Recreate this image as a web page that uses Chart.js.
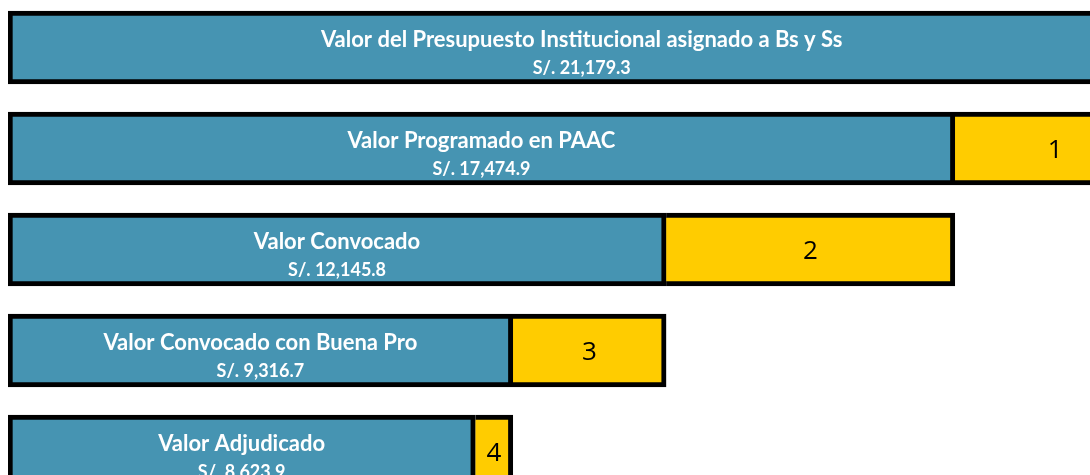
<!DOCTYPE html>
<html>
<head>
<meta charset="utf-8">
<script src="https://cdn.jsdelivr.net/npm/chart.js@4/dist/chart.umd.min.js"></script>
<style>
  html, body { margin: 0; padding: 0; background: #fff; overflow: hidden; }
  #wrap { width: 1090px; height: 475px; overflow: hidden; }
  #chart { display: block; margin-top: -3px; }
</style>
</head>
<body>
<div id="wrap"><canvas id="chart" width="1200" height="505"></canvas></div>
<script>
// etapas del proceso y montos (S/.)
const categorias = [
  'Valor del Presupuesto Institucional asignado a Bs y Ss',
  'Valor Programado en PAAC',
  'Valor Convocado',
  'Valor Convocado con Buena Pro',
  'Valor Adjudicado'
];
const valores = [21179.3, 17474.9, 12145.8, 9316.7, 8623.9];
const numerosBrecha = ['', '1', '2', '3', '4'];

const AZUL = '#4694b2';
const AMARILLO = '#ffcc00';

// brecha = monto de la etapa anterior menos el de la actual
var brechas = valores.map(function (v, i) { return i === 0 ? 0 : valores[i - 1] - v; });

function formato(v) {
  return 'S/. ' + v.toLocaleString('en-US', {minimumFractionDigits: 1, maximumFractionDigits: 1});
}

const etiquetas = {
  id: 'etiquetas',
  afterDatasetsDraw(chart) {
    const ctx = chart.ctx;
    const azul = chart.getDatasetMeta(0).data;
    const amar = chart.getDatasetMeta(1).data;
    ctx.save();
    ctx.textAlign = 'center';
    ctx.textBaseline = 'middle';
    azul.forEach(function (bar, i) {
      var cx = (bar.base + bar.x) / 2;
      ctx.fillStyle = '#fff';
      ctx.font = 'bold 22px Lato';
      ctx.fillText(categorias[i], cx, bar.y - 8);
      ctx.font = 'bold 18px Lato';
      ctx.fillText(formato(valores[i]), cx, bar.y + 21);
    });
    amar.forEach(function (bar, i) {
      if (!numerosBrecha[i]) return;
      ctx.fillStyle = '#000';
      ctx.font = '26px "Open Sans"';
      ctx.fillText(numerosBrecha[i], (bar.base + bar.x) / 2, bar.y + 2);
    });
    ctx.restore();
  }
};

new Chart(document.getElementById('chart').getContext('2d'), {
  type: 'bar',
  data: {
    labels: categorias,
    datasets: [
      {
        data: valores,
        backgroundColor: AZUL,
        borderColor: '#000',
        borderWidth: 5,
        borderSkipped: false,
        barThickness: 73
      },
      {
        data: brechas,
        backgroundColor: AMARILLO,
        borderColor: '#000',
        borderWidth: {top: 5, right: 5, bottom: 5, left: 0},
        borderSkipped: false,
        barThickness: 73
      }
    ]
  },
  options: {
    indexAxis: 'y',
    responsive: false,
    devicePixelRatio: 1,
    animation: false,
    layout: { padding: {left: 8, right: 0, top: 0, bottom: 0} },
    scales: {
      x: { display: false, stacked: true, min: 0, max: 22000 },
      y: { display: false, stacked: true }
    },
    plugins: {
      legend: { display: false },
      tooltip: { enabled: false }
    }
  },
  plugins: [etiquetas]
});
</script>
</body>
</html>
